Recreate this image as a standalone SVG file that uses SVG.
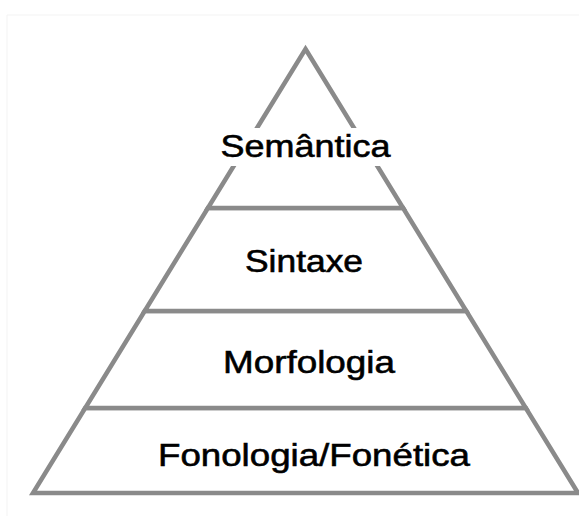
<svg xmlns="http://www.w3.org/2000/svg" width="579" height="516" viewBox="0 0 579 516">
  <style>
    .layer { fill: #ffffff; stroke: #8a8a8a; stroke-width: 4.5; stroke-linejoin: miter; }
    .label { font-family: "Liberation Sans", Arial, Helvetica, sans-serif; font-size: 32px; fill: #000000; stroke: #000000; stroke-width: 0.6; text-anchor: middle; }
  </style>
  <rect x="0" y="0" width="579" height="516" fill="#ffffff"/>
  <path d="M7 516 V15 H579" fill="none" stroke="#f3f3f3" stroke-width="1"/>
  <g id="fonologia">
    <polygon class="layer" points="85.2,408 525.8,408 578,493 33,493"/>
    <text class="label" x="314" y="466" textLength="312" lengthAdjust="spacingAndGlyphs">Fonologia/Fonética</text>
  </g>
  <g id="morfologia">
    <polygon class="layer" points="144.7,311 466.3,311 525.8,408 85.2,408"/>
    <text class="label" x="309" y="373" textLength="172" lengthAdjust="spacingAndGlyphs">Morfologia</text>
  </g>
  <g id="sintaxe">
    <polygon class="layer" points="207.9,208 403.1,208 466.3,311 144.7,311"/>
    <text class="label" x="304" y="272" textLength="118" lengthAdjust="spacingAndGlyphs">Sintaxe</text>
  </g>
  <g id="semantica">
    <polygon class="layer" points="305.5,49 403.1,208 207.9,208"/>
    <rect x="215" y="128" width="182" height="38" fill="#ffffff"/>
    <text class="label" x="305.5" y="157" textLength="170" lengthAdjust="spacingAndGlyphs">Semântica</text>
  </g>
</svg>
